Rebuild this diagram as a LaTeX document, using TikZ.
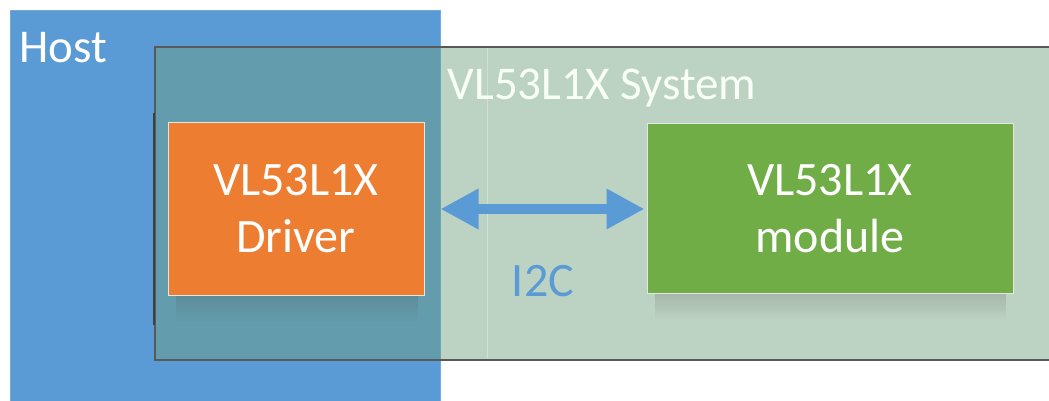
\documentclass[tikz,border=0pt]{standalone}
\usepackage{fontspec}
\setmainfont{Carlito}
\usetikzlibrary{arrows.meta,fadings}
\definecolor{hostblue}{RGB}{91,155,213}
\definecolor{sysgreen}{RGB}{110,159,124}
\definecolor{drvorange}{RGB}{237,125,49}
\definecolor{modgreen}{RGB}{112,173,71}
\begin{document}
\begin{tikzpicture}[x=1pt,y=-1pt,
  lbl/.style={font=\fontsize{48}{57}\selectfont, text=white, align=center},
  blockbox/.style={draw=white!80!gray, line width=1pt, inner sep=0pt},
  softshadow/.style={fill=black!70, opacity=0.22, path fading=south},
  link/.style={hostblue, line width=10pt, {Triangle[length=38pt,width=38pt]}-{Triangle[length=38pt,width=38pt]}}
]
\useasboundingbox (0,0) rectangle (1049,401);
\fill[white] (0,0) rectangle (1049,401);
\node[fill=hostblue, draw=hostblue!85!white, line width=1pt, minimum width=430pt, minimum height=400pt, inner sep=0pt, anchor=north west] (host) at (10,10) {};
\coordinate (s1) at (155,47);
\coordinate (s2) at (1065,360);
\fill[sysgreen, fill opacity=0.46] (s1) rectangle (s2);
\draw[black!65, line width=2pt] (s2 |- s1) -- (s1) -- (s1 |- s2) -- (s2);
\node[inner sep=0pt] (system) at (602,203) {};
\node[lbl, anchor=base west, inner sep=0pt, font=\fontsize{47}{56}\selectfont] (hostlbl) at (19,63) {Host};
\node[lbl, anchor=base, inner sep=0pt, text=white!97!green, font=\fontsize{47}{56}\selectfont] (syslbl) at (602,100) {VL53L1X System};
\draw[draw=black!75, line width=2pt] (154,113) coordinate (bl1) -- (154,325) coordinate (bl2);
\draw[draw=white, opacity=0.3, line width=1pt] (487,48) coordinate (fl1) -- (487,359) coordinate (fl2);
\fill[softshadow] (176,292) rectangle (418,322);
\fill[softshadow] (655,290) rectangle (1006,320);
\node[blockbox, fill=drvorange, minimum width=256pt, minimum height=172pt] (driver) at (296,209) {};
\node[blockbox, fill=modgreen, minimum width=366pt, minimum height=169pt] (module) at (830,208.5) {};
\node[lbl] (drvlbl) at (driver.center) {VL53L1X\\Driver};
\node[lbl] (modlbl) at (module.center) {VL53L1X\\module};
\draw[link, shorten <=16pt, shorten >=2pt] (driver.east |- 0,209) coordinate (a1) -- (module.west |- 0,209) coordinate (a2);
\node[lbl, text=hostblue, anchor=base, inner sep=0pt] (i2c) at (543,296) {I2C};
\end{tikzpicture}
\end{document}
